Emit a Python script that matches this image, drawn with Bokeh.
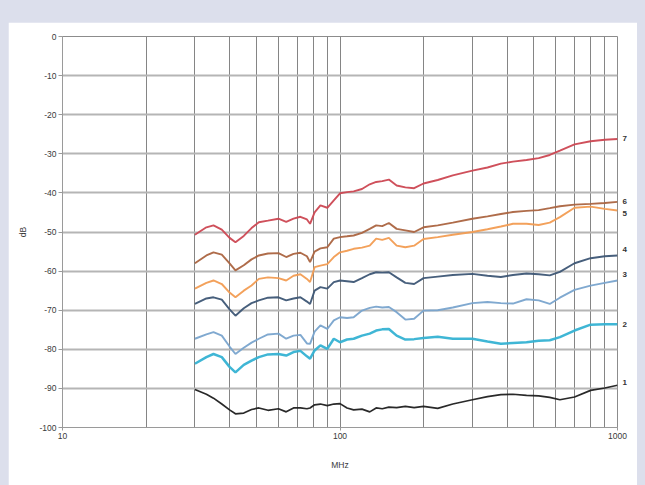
from bokeh.plotting import figure
from bokeh.models import FixedTicker, LinearAxis, CustomJSTickFormatter, ColumnDataSource
from bokeh.layouts import column
from bokeh.embed import file_html
from bokeh.resources import INLINE

freq = [30, 33, 35, 37.5, 40, 42, 45, 48, 51, 55, 60, 64, 68, 72, 76, 78, 81, 85, 90, 95,
        100, 106, 112, 120, 128, 135, 142, 150, 160, 172, 185, 200, 225, 255, 300, 340,
        380, 420, 470, 520, 570, 620, 700, 800, 900, 1000]

s7 = [-50.7, -48.8, -48.3, -49.4, -51.5, -52.6, -51.0, -49.0, -47.5, -47.1, -46.6, -47.4,
      -46.6, -46.1, -46.8, -47.9, -45.0, -43.2, -43.8, -41.9, -40.1, -39.8, -39.6, -39.0,
      -37.8, -37.2, -37.0, -36.6, -38.1, -38.6, -38.8, -37.6, -36.7, -35.5, -34.3, -33.5,
      -32.5, -32.0, -31.6, -31.1, -30.3, -29.2, -27.6, -26.8, -26.4, -26.2]
s6 = [-58.0, -56.0, -55.2, -55.8, -58.0, -59.8, -58.5, -57.0, -56.0, -55.5, -55.4, -56.4,
      -55.6, -55.3, -56.2, -57.7, -55.0, -54.2, -53.9, -51.7, -51.3, -51.1, -50.9, -50.2,
      -49.2, -48.3, -48.5, -47.7, -49.2, -49.6, -50.0, -48.8, -48.3, -47.6, -46.6, -46.0,
      -45.4, -44.9, -44.6, -44.4, -43.9, -43.4, -43.0, -42.8, -42.6, -42.3]
s5 = [-64.5, -63.0, -62.4, -63.3, -65.5, -66.7, -65.0, -63.7, -62.0, -61.6, -61.8, -62.4,
      -61.2, -60.8, -62.0, -62.8, -59.0, -58.6, -58.2, -56.4, -55.2, -54.8, -54.3, -54.0,
      -53.5, -51.7, -52.0, -51.5, -53.5, -53.9, -53.5, -51.8, -51.3, -50.7, -50.0, -49.3,
      -48.6, -47.9, -47.9, -48.2, -47.6, -46.2, -43.8, -43.5, -44.1, -44.5]
s4 = [-68.4, -67.0, -66.7, -67.3, -69.8, -71.4, -69.5, -68.2, -67.5, -66.8, -66.7, -67.5,
      -67.0, -66.7, -67.8, -68.4, -65.0, -64.1, -64.5, -62.8, -62.4, -62.6, -62.8, -61.8,
      -60.8, -60.3, -60.4, -60.3, -61.6, -63.0, -63.3, -61.8, -61.4, -61.0, -60.7, -61.2,
      -61.5, -61.0, -60.6, -60.8, -61.1, -60.2, -58.0, -56.7, -56.2, -56.0]
s3 = [-77.3, -76.2, -75.6, -76.5, -79.3, -81.2, -79.6, -78.3, -77.3, -76.2, -76.0, -77.3,
      -76.5, -76.3, -78.5, -78.6, -75.5, -73.9, -74.8, -72.6, -71.8, -72.0, -71.8, -70.1,
      -69.4, -69.1, -69.3, -69.2, -70.5, -72.4, -72.2, -70.1, -70.0, -69.3, -68.2, -67.9,
      -68.2, -68.3, -67.2, -67.5, -68.4, -66.8, -64.8, -63.7, -63.0, -62.4]
s2 = [-83.7, -82.0, -81.2, -82.0, -84.5, -85.9, -84.0, -82.9, -82.0, -81.3, -81.2, -81.6,
      -80.7, -80.4, -81.8, -82.4, -80.3, -79.0, -79.9, -77.3, -78.2, -77.5, -77.3, -76.5,
      -76.0, -75.2, -74.9, -74.8, -76.5, -77.5, -77.4, -77.1, -76.8, -77.3, -77.3, -78.0,
      -78.6, -78.4, -78.2, -77.8, -77.7, -76.9, -75.2, -73.7, -73.6, -73.6]
s1 = [-90.3, -91.5, -92.5, -94.0, -95.5, -96.5, -96.3, -95.4, -95.0, -95.6, -95.2, -96.0,
      -95.0, -95.0, -95.2, -95.0, -94.2, -94.0, -94.4, -94.0, -93.9, -95.0, -95.5, -95.3,
      -96.0, -95.0, -95.2, -94.8, -94.9, -94.6, -94.9, -94.6, -95.1, -94.0, -92.9, -92.1,
      -91.6, -91.5, -91.8, -91.9, -92.3, -92.9, -92.2, -90.5, -89.9, -89.2]

series_names = ["1", "2", "3", "4", "5", "6", "7"]
series_values = [s1, s2, s3, s4, s5, s6, s7]
series_colors = ["#1e1e1e", "#35b2d3", "#79a4cd", "#3d5675", "#f29c52", "#ab6440", "#cc4752"]
series_widths = [1.7, 2.5, 1.9, 1.9, 1.9, 1.9, 1.9]

x_major = [10, 100, 1000]
x_major_labels = ["10", "100", "1000"]
x_minor = [20, 30, 40, 50, 60, 70, 80, 90, 200, 300, 400, 500, 600, 700, 800, 900]
y_ticks = [0, -10, -20, -30, -40, -50, -60, -70, -80, -90, -100]
y_tick_labels = ["0", "-10", "-20", "-30", "-40", "-50", "-60", "-70", "-80", "-90", "-100"]

p = figure(width=629, height=463, x_axis_type="log", x_range=(10, 1000), y_range=(-100, 0),
           output_backend="svg", toolbar_location=None,
           min_border_left=54, min_border_right=20, min_border_top=14, min_border_bottom=58)
p.margin = (22, 8, 0, 8)
p.background_fill_color = "white"
p.border_fill_color = "white"
p.outline_line_color = "#8c8c8c"
p.outline_line_width = 1

p.xaxis.ticker = FixedTicker(ticks=x_major, minor_ticks=x_minor)
p.xaxis.major_label_overrides = dict(zip(x_major, x_major_labels))
p.yaxis.ticker = FixedTicker(ticks=y_ticks)
p.yaxis.major_label_overrides = dict(zip(y_ticks, y_tick_labels))

p.xgrid.grid_line_color = "#858585"
p.xgrid.grid_line_width = 1
p.xgrid.minor_grid_line_color = "#858585"
p.xgrid.minor_grid_line_width = 1
p.ygrid.grid_line_color = "#b5b5b5"
p.ygrid.grid_line_width = 2

for ax in (p.xaxis[0], p.yaxis[0]):
    ax.axis_line_color = "#9a9a9a"
    ax.major_tick_line_color = "#9a9a9a"
    ax.minor_tick_line_color = None
    ax.major_tick_in = 0
    ax.major_label_text_font = "Liberation Sans"
    ax.major_label_text_font_size = "8.5px"
    ax.major_label_text_color = "#3a3a3a"
    ax.axis_label_text_font = "Liberation Sans"
    ax.axis_label_text_font_size = "8.5px"
    ax.axis_label_text_font_style = "normal"
    ax.axis_label_text_color = "#3a3a3a"

p.yaxis.major_tick_out = 4
p.yaxis.major_label_standoff = 2
p.yaxis.axis_label = "dB"
p.yaxis.axis_label_standoff = 8
p.xaxis.major_tick_out = 3
p.xaxis.major_label_standoff = 1
p.xaxis.axis_label = "MHz"
p.xaxis.axis_label_standoff = 18

for name, vals, col, w in zip(series_names, series_values, series_colors, series_widths):
    src = ColumnDataSource(dict(x=freq, y=vals))
    p.line("x", "y", source=src, line_color=col, line_width=w, line_alpha=0.95)

# series labels at the right end of each curve (pixel nudges converted to dB)
label_nudge_px = [3, 0, 6, 6, -3, 0, 0]
px_per_db = 391 / 100.0
label_pos = [vals[-1] + n / px_per_db for vals, n in zip(series_values, label_nudge_px)]
right = LinearAxis(ticker=FixedTicker(ticks=label_pos),
                   formatter=CustomJSTickFormatter(args=dict(names=series_names),
                                                   code="return names[index];"))
right.axis_line_color = None
right.major_tick_line_color = None
right.minor_tick_line_color = None
right.major_tick_out = 0
right.major_tick_in = 0
right.major_label_standoff = 5
right.major_label_text_font = "Liberation Sans"
right.major_label_text_font_size = "8px"
right.major_label_text_font_style = "bold"
right.major_label_text_color = "#333333"
p.add_layout(right, "right")

page = column(p, styles={"background-color": "#dcdfec"})

open("out.html", "w").write(file_html(page, INLINE))
